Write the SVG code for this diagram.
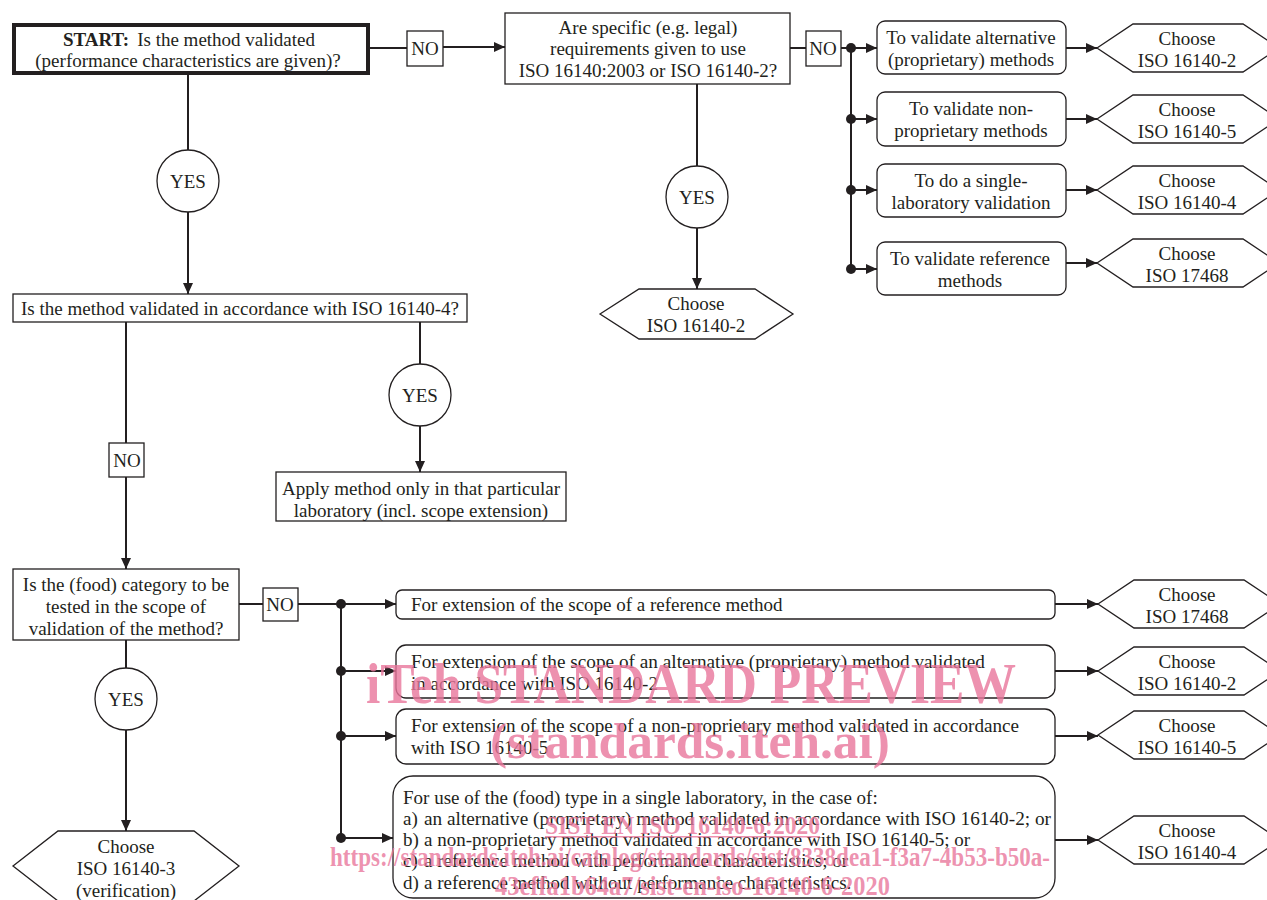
<svg xmlns="http://www.w3.org/2000/svg" width="1267" height="900" viewBox="0 0 1267 900">
<style>
  .t{font-family:"Liberation Serif","Times New Roman",serif;font-size:19px;fill:#231f20}
  .c{text-anchor:middle}
  .b{fill:#fff;stroke:#231f20;stroke-width:1.3}
  .ln{fill:none;stroke:#231f20;stroke-width:2}
  .dot{fill:#231f20}
  .wm{font-family:"Liberation Serif","Times New Roman",serif;font-weight:bold;fill:#e9769b;fill-opacity:0.8}
</style>
<defs>
  <marker id="ah" markerUnits="userSpaceOnUse" markerWidth="11" markerHeight="10" refX="11" refY="5" orient="auto">
    <path d="M0,0 L11,5 L0,10 z" fill="#231f20"/>
  </marker>
</defs>
<rect width="1267" height="900" fill="#fff"/>

<g id="connectors">
  <line class="ln" x1="369" y1="48" x2="407" y2="48"/>
  <line class="ln" x1="443" y1="47" x2="505" y2="47" marker-end="url(#ah)"/>
  <line class="ln" x1="790" y1="48" x2="806" y2="48"/>
  <line class="ln" x1="841" y1="48" x2="851" y2="48"/>
  <line class="ln" x1="851" y1="48" x2="851" y2="269"/>
  <line class="ln" x1="851" y1="48" x2="877" y2="48" marker-end="url(#ah)"/>
  <line class="ln" x1="851" y1="119" x2="877" y2="119" marker-end="url(#ah)"/>
  <line class="ln" x1="851" y1="190" x2="877" y2="190" marker-end="url(#ah)"/>
  <line class="ln" x1="851" y1="269" x2="877" y2="269" marker-end="url(#ah)"/>
  <circle class="dot" cx="851" cy="48" r="5"/>
  <circle class="dot" cx="851" cy="119" r="5"/>
  <circle class="dot" cx="851" cy="190" r="5"/>
  <circle class="dot" cx="851" cy="269" r="5"/>
  <line class="ln" x1="1066" y1="48" x2="1097" y2="48" marker-end="url(#ah)"/>
  <line class="ln" x1="1066" y1="119" x2="1097" y2="119" marker-end="url(#ah)"/>
  <line class="ln" x1="1066" y1="190" x2="1097" y2="190" marker-end="url(#ah)"/>
  <line class="ln" x1="1066" y1="263" x2="1097" y2="263" marker-end="url(#ah)"/>
  <line class="ln" x1="188" y1="74" x2="188" y2="150"/>
  <line class="ln" x1="188" y1="212" x2="188" y2="294" marker-end="url(#ah)"/>
  <line class="ln" x1="697" y1="84" x2="697" y2="166"/>
  <line class="ln" x1="697" y1="228" x2="697" y2="289" marker-end="url(#ah)"/>
  <line class="ln" x1="126" y1="322" x2="126" y2="443"/>
  <line class="ln" x1="126" y1="477" x2="126" y2="569" marker-end="url(#ah)"/>
  <line class="ln" x1="420" y1="322" x2="420" y2="364"/>
  <line class="ln" x1="420" y1="426" x2="420" y2="472" marker-end="url(#ah)"/>
  <line class="ln" x1="239" y1="604" x2="263" y2="604"/>
  <line class="ln" x1="298" y1="604" x2="341" y2="604"/>
  <line class="ln" x1="341" y1="604" x2="341" y2="838"/>
  <line class="ln" x1="341" y1="604" x2="396" y2="604" marker-end="url(#ah)"/>
  <line class="ln" x1="341" y1="671" x2="396" y2="671" marker-end="url(#ah)"/>
  <line class="ln" x1="341" y1="736" x2="396" y2="736" marker-end="url(#ah)"/>
  <line class="ln" x1="341" y1="838" x2="393" y2="838" marker-end="url(#ah)"/>
  <circle class="dot" cx="341" cy="604" r="5"/>
  <circle class="dot" cx="341" cy="671" r="5"/>
  <circle class="dot" cx="341" cy="736" r="5"/>
  <circle class="dot" cx="341" cy="838" r="5"/>
  <line class="ln" x1="1055" y1="604" x2="1098" y2="604" marker-end="url(#ah)"/>
  <line class="ln" x1="1055" y1="671" x2="1098" y2="671" marker-end="url(#ah)"/>
  <line class="ln" x1="1055" y1="736" x2="1098" y2="736" marker-end="url(#ah)"/>
  <line class="ln" x1="1055" y1="840" x2="1098" y2="840" marker-end="url(#ah)"/>
  <line class="ln" x1="126" y1="640" x2="126" y2="668"/>
  <line class="ln" x1="126" y1="730" x2="126" y2="831" marker-end="url(#ah)"/>
</g>

<g id="start">
  <rect x="14" y="25" width="354" height="48" fill="#fff" stroke="#231f20" stroke-width="4"/>
  <text class="t c" x="189" y="46"><tspan font-weight="bold">START:</tspan><tspan dx="8">Is the method validated</tspan></text>
  <text class="t c" x="188" y="67">(performance characteristics are given)?</text>
</g>
<g id="no1"><rect class="b" x="407" y="31" width="36" height="35"/><text class="t c" x="425" y="55">NO</text></g>
<g id="q-legal">
  <rect class="b" x="505" y="13" width="285" height="71"/>
  <text class="t c" x="648" y="34">Are specific (e.g. legal)</text>
  <text class="t c" x="648" y="55">requirements given to use</text>
  <text class="t c" x="648" y="77">ISO 16140:2003 or ISO 16140-2?</text>
</g>
<g id="no2"><rect class="b" x="806" y="31" width="35" height="35"/><text class="t c" x="823" y="55">NO</text></g>

<g id="r1"><rect class="b" x="877" y="21" width="189" height="53" rx="8"/>
  <text class="t c" x="971" y="44">To validate alternative</text><text class="t c" x="971" y="66">(proprietary) methods</text></g>
<g id="r2"><rect class="b" x="877" y="92" width="189" height="54" rx="8"/>
  <text class="t c" x="971" y="115">To validate non-</text><text class="t c" x="971" y="137">proprietary methods</text></g>
<g id="r3"><rect class="b" x="877" y="164" width="189" height="53" rx="8"/>
  <text class="t c" x="971" y="187">To do a single-</text><text class="t c" x="971" y="209">laboratory validation</text></g>
<g id="r4"><rect class="b" x="877" y="242" width="189" height="53" rx="8"/>
  <text class="t c" x="970" y="265">To validate reference</text><text class="t c" x="970" y="287">methods</text></g>

<g id="h1"><polygon class="b" points="1097,48 1133,24 1243,24 1279,48 1243,72 1133,72"/>
  <text class="t c" x="1187" y="45">Choose</text><text class="t c" x="1187" y="67">ISO 16140-2</text></g>
<g id="h2"><polygon class="b" points="1097,119 1133,95 1243,95 1279,119 1243,143 1133,143"/>
  <text class="t c" x="1187" y="116">Choose</text><text class="t c" x="1187" y="138">ISO 16140-5</text></g>
<g id="h3"><polygon class="b" points="1097,190 1133,166 1243,166 1279,190 1243,214 1133,214"/>
  <text class="t c" x="1187" y="187">Choose</text><text class="t c" x="1187" y="209">ISO 16140-4</text></g>
<g id="h4"><polygon class="b" points="1097,263 1133,239 1243,239 1279,263 1243,287 1133,287"/>
  <text class="t c" x="1187" y="260">Choose</text><text class="t c" x="1187" y="282">ISO 17468</text></g>

<g id="yes1"><circle class="b" cx="188" cy="181" r="31"/><text class="t c" x="188" y="188">YES</text></g>
<g id="yes2"><circle class="b" cx="697" cy="197" r="31"/><text class="t c" x="697" y="204">YES</text></g>
<g id="hmid"><polygon class="b" points="600,314 639,289 755,289 793,314 755,339 639,339"/>
  <text class="t c" x="696" y="310">Choose</text><text class="t c" x="696" y="332">ISO 16140-2</text></g>

<g id="q-4"><rect class="b" x="13" y="294" width="454" height="28"/>
  <text class="t c" x="240" y="315">Is the method validated in accordance with ISO 16140-4?</text></g>
<g id="yes3"><circle class="b" cx="420" cy="395" r="31"/><text class="t c" x="420" y="402">YES</text></g>
<g id="apply"><rect class="b" x="276" y="472" width="290" height="49"/>
  <text class="t c" x="421" y="495">Apply method only in that particular</text>
  <text class="t c" x="421" y="517">laboratory (incl. scope extension)</text></g>
<g id="no3"><rect class="b" x="109" y="443" width="35" height="34"/><text class="t c" x="127" y="467">NO</text></g>

<g id="q-food"><rect class="b" x="13" y="569" width="226" height="71"/>
  <text class="t c" x="126" y="591">Is the (food) category to be</text>
  <text class="t c" x="126" y="613">tested in the scope of</text>
  <text class="t c" x="126" y="635">validation of the method?</text></g>
<g id="no4"><rect class="b" x="263" y="588" width="35" height="33"/><text class="t c" x="280" y="611">NO</text></g>
<g id="yes4"><circle class="b" cx="126" cy="699" r="31"/><text class="t c" x="126" y="706">YES</text></g>
<g id="hverif"><polygon class="b" points="13,866 58,831 194,831 239,866 194,901 58,901"/>
  <text class="t c" x="126" y="853">Choose</text><text class="t c" x="126" y="875">ISO 16140-3</text><text class="t c" x="126" y="897">(verification)</text></g>

<g id="e1"><rect class="b" x="396" y="590" width="659" height="29" rx="6"/>
  <text class="t" x="411" y="611">For extension of the scope of a reference method</text></g>
<g id="e2"><rect class="b" x="396" y="645" width="659" height="53" rx="10"/>
  <text class="t" x="411" y="668" textLength="574" lengthAdjust="spacingAndGlyphs">For extension of the scope of an alternative (proprietary) method validated</text>
  <text class="t" x="411" y="690">in accordance with ISO 16140-2</text></g>
<g id="e3"><rect class="b" x="396" y="709" width="659" height="55" rx="10"/>
  <text class="t" x="411" y="732" textLength="608" lengthAdjust="spacingAndGlyphs">For extension of the scope of a non-proprietary method validated in accordance</text>
  <text class="t" x="411" y="754">with ISO 16140-5</text></g>
<g id="e4"><rect class="b" x="393" y="776" width="662" height="122" rx="20"/>
  <text class="t" x="403" y="804">For use of the (food) type in a single laboratory, in the case of:</text>
  <text class="t" x="403" y="825">a)</text><text class="t" x="424" y="825" textLength="627" lengthAdjust="spacingAndGlyphs">an alternative (proprietary) method validated in accordance with ISO 16140-2; or</text>
  <text class="t" x="403" y="846">b)</text><text class="t" x="424" y="846">a non-proprietary method validated in accordance with ISO 16140-5; or</text>
  <text class="t" x="403" y="867">c)</text><text class="t" x="424" y="867">a reference method with performance characteristics; or</text>
  <text class="t" x="403" y="889">d)</text><text class="t" x="424" y="889">a reference method without performance characteristics.</text></g>

<g id="hb1"><polygon class="b" points="1098,604 1134,580 1244,580 1280,604 1244,628 1134,628"/>
  <text class="t c" x="1187" y="601">Choose</text><text class="t c" x="1187" y="623">ISO 17468</text></g>
<g id="hb2"><polygon class="b" points="1098,671 1134,647 1244,647 1280,671 1244,695 1134,695"/>
  <text class="t c" x="1187" y="668">Choose</text><text class="t c" x="1187" y="690">ISO 16140-2</text></g>
<g id="hb3"><polygon class="b" points="1098,735 1134,711 1244,711 1280,735 1244,759 1134,759"/>
  <text class="t c" x="1187" y="732">Choose</text><text class="t c" x="1187" y="754">ISO 16140-5</text></g>
<g id="hb4"><polygon class="b" points="1098,840 1134,816 1244,816 1280,840 1244,864 1134,864"/>
  <text class="t c" x="1187" y="837">Choose</text><text class="t c" x="1187" y="859">ISO 16140-4</text></g>

<g id="watermark">
  <text class="wm" x="366" y="703" font-size="56" textLength="650" lengthAdjust="spacingAndGlyphs">iTeh STANDARD PREVIEW</text>
  <text class="wm" x="490" y="758" font-size="50" textLength="400" lengthAdjust="spacingAndGlyphs">(standards.iteh.ai)</text>
  <text class="wm" x="545" y="834" font-size="25" font-weight="normal" textLength="275" lengthAdjust="spacingAndGlyphs">SIST EN ISO 16140-6:2020</text>
  <rect x="545" y="836" width="275" height="1.5" fill="#e9769b" fill-opacity="0.8"/>
  <text class="wm" x="330" y="866" font-size="27" font-weight="normal" textLength="720" lengthAdjust="spacingAndGlyphs">https://standards.iteh.ai/catalog/standards/sist/8338dea1-f3a7-4b53-b50a-</text>
  <text class="wm" x="495" y="895" font-size="27" font-weight="normal" textLength="395" lengthAdjust="spacingAndGlyphs">43effa1b64a7/sist-en-iso-16140-6-2020</text>
</g>
</svg>
